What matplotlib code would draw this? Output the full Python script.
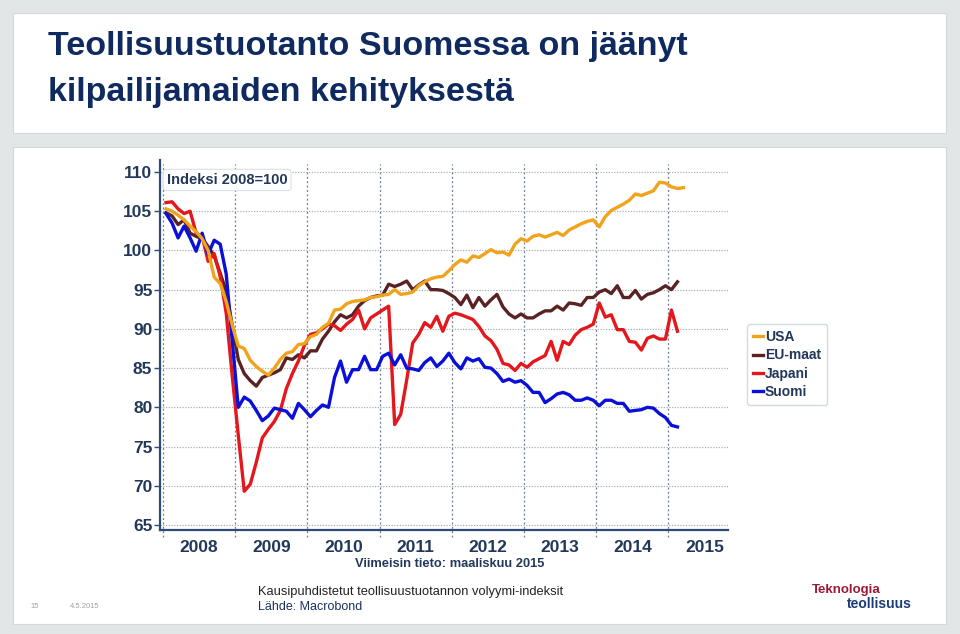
import numpy as np
import matplotlib
matplotlib.use("Agg")
import matplotlib.pyplot as plt
from matplotlib.patches import Rectangle

# monthly index values, Jan 2008 ->
usa = [105.3, 105.0, 104.5, 103.9, 103.1, 102.4, 101.5, 100.0, 96.6, 95.8,
       93.5, 90.5, 87.8, 87.5, 86.0, 85.2, 84.6, 84.1, 85.0, 86.1,
       86.9, 87.1, 88.0, 88.1, 89.0, 89.3, 90.2, 90.7, 92.4, 92.5,
       93.2, 93.5, 93.6, 93.7, 94.0, 94.1, 94.3, 94.4, 95.0, 94.4,
       94.5, 94.7, 95.5, 96.0, 96.4, 96.6, 96.7, 97.4, 98.2, 98.8,
       98.5, 99.3, 99.1, 99.6, 100.1, 99.7, 99.8, 99.4, 100.8, 101.5,
       101.2, 101.8, 102.0, 101.7, 102.0, 102.3, 101.9, 102.6, 103.0, 103.4,
       103.7, 103.9, 103.0, 104.3, 105.1, 105.5, 105.9, 106.4, 107.2, 107.0,
       107.3, 107.6, 108.7, 108.6, 108.1, 107.9, 108.0]
eu = [104.8, 104.4, 103.3, 103.9, 102.2, 101.8, 101.5, 100.5, 99.3, 97.1,
      94.8, 90.5, 86.1, 84.3, 83.4, 82.7, 83.8, 84.1, 84.4, 84.8,
      86.3, 86.1, 86.7, 86.3, 87.2, 87.2, 88.7, 89.7, 90.9, 91.8,
      91.4, 91.8, 92.9, 93.6, 94.0, 94.2, 94.3, 95.7, 95.4, 95.7,
      96.1, 95.0, 95.6, 96.1, 95.0, 95.0, 94.9, 94.5, 94.0, 93.1,
      94.3, 92.7, 94.0, 92.9, 93.7, 94.4, 92.8, 91.9, 91.4, 91.9,
      91.4, 91.4, 91.9, 92.3, 92.3, 92.9, 92.4, 93.3, 93.2, 93.0,
      94.0, 94.0, 94.7, 95.0, 94.5, 95.5, 94.0, 94.0, 94.9, 93.8,
      94.4, 94.6, 95.0, 95.5, 95.0, 96.0]
japani = [106.1, 106.2, 105.3, 104.7, 105.0, 102.2, 101.8, 98.6, 99.6, 96.7,
          92.0, 84.0, 76.5, 69.3, 70.2, 73.0, 76.1, 77.2, 78.2, 79.6,
          82.4, 84.3, 85.9, 87.9, 89.3, 89.5, 90.0, 90.6, 90.4, 89.8,
          90.6, 91.2, 92.4, 90.0, 91.4, 91.9, 92.4, 92.9, 77.8, 79.1,
          83.5, 88.2, 89.3, 90.8, 90.2, 91.6, 89.7, 91.6, 92.0, 91.8,
          91.5, 91.2, 90.3, 89.1, 88.5, 87.4, 85.6, 85.4, 84.7, 85.6,
          85.1, 85.8, 86.2, 86.6, 88.4, 86.0, 88.4, 88.0, 89.2, 89.9,
          90.2, 90.6, 93.3, 91.5, 91.8, 89.9, 89.9, 88.4, 88.3, 87.3,
          88.8, 89.1, 88.7, 88.7, 92.4, 89.7]
suomi = [104.7, 103.5, 101.6, 103.1, 101.6, 99.9, 102.2, 99.5, 101.3, 100.8,
         97.0, 88.5, 80.0, 81.3, 80.8, 79.6, 78.3, 78.9, 79.9, 79.7,
         79.5, 78.6, 80.5, 79.7, 78.8, 79.6, 80.3, 80.0, 83.8, 85.9,
         83.2, 84.8, 84.8, 86.5, 84.8, 84.8, 86.5, 86.9, 85.4, 86.7,
         85.0, 84.9, 84.7, 85.7, 86.3, 85.2, 85.9, 86.9, 85.7, 84.9,
         86.3, 85.9, 86.2, 85.1, 85.0, 84.3, 83.3, 83.6, 83.2, 83.4,
         82.8, 81.9, 81.9, 80.6, 81.1, 81.7, 81.9, 81.6, 80.9, 80.9,
         81.2, 80.9, 80.2, 80.9, 80.9, 80.5, 80.5, 79.5, 79.6, 79.7,
         80.0, 79.9, 79.2, 78.7, 77.7, 77.5]
years = list(range(2008, 2016))
yticks = [65, 70, 75, 80, 85, 90, 95, 100, 105, 110]

navy = "#0e2a5e"
axcol = "#2f4a78"
plt.rcParams['font.family'] = ['Liberation Sans', 'DejaVu Sans']

fig = plt.figure(figsize=(9.6, 6.34), dpi=100)
fig.patch.set_facecolor("#e2e6e6")

# white panels behind everything
fig.patches.append(Rectangle((13/960, 1-133/634), 933/960, 120/634, transform=fig.transFigure,
                             facecolor="white", edgecolor="#d4d8d8", lw=0.8, zorder=-10))
fig.patches.append(Rectangle((13/960, 1-624/634), 933/960, 477/634, transform=fig.transFigure,
                             facecolor="white", edgecolor="#d4d8d8", lw=0.8, zorder=-10))

fig.text(48/960, 1-47/634, "Teollisuustuotanto Suomessa on jäänyt",
         fontsize=24.5, fontweight="bold", color=navy, va="center", ha="left")
fig.text(48/960, 1-93/634, "kilpailijamaiden kehityksestä",
         fontsize=24.5, fontweight="bold", color=navy, va="center", ha="left")

ax = fig.add_axes([160/960, 1-530/634, 568/960, 370/634])
ax.patch.set_alpha(0)
ax.set_xlim(2007.958, 2015.825)
ax.set_ylim(64.36, 111.53)

def xs(vals):
    return 2008 + (np.arange(len(vals)) + 0.5) / 12

ax.plot(xs(usa), usa, color="#f2a31c", lw=2.4, label="USA", zorder=4)
ax.plot(xs(eu), eu, color="#5a2323", lw=2.4, label="EU-maat", zorder=3)
ax.plot(xs(japani), japani, color="#e3171c", lw=2.4, label="Japani", zorder=3)
ax.plot(xs(suomi), suomi, color="#0a10d8", lw=2.4, label="Suomi", zorder=3)

for v in yticks:
    ax.axhline(v, color="#a9b0b8", lw=0.9, ls=(0, (1, 1.2)), zorder=1)
for yr in years:
    ax.axvline(yr, ymin=-0.02, ymax=0.99, color="#6a7a90", lw=0.9, ls=(0, (1.5, 2)), zorder=1, clip_on=False)

for s in ["top", "right"]:
    ax.spines[s].set_visible(False)
for s in ["left", "bottom"]:
    ax.spines[s].set_color(axcol)
    ax.spines[s].set_linewidth(1.6)

ax.set_yticks(yticks)
ax.set_yticklabels([str(v) for v in yticks])
ax.tick_params(axis="y", length=4, width=1, color=axcol, labelsize=12.5, labelcolor="#22385a", pad=1.5)
ax.set_xticks([y + 0.5 for y in years])
ax.set_xticklabels([str(y) for y in years])
ax.tick_params(axis="x", length=0, labelsize=12.5, labelcolor="#22385a", pad=7)
for lab in ax.get_xticklabels() + ax.get_yticklabels():
    lab.set_fontweight("bold")

ax.text(0.012, 0.965, "Indeksi 2008=100", transform=ax.transAxes, fontsize=10.5, fontweight="bold",
        color="#22385a", va="top", ha="left",
        bbox=dict(boxstyle="round,pad=0.25", facecolor="white", edgecolor="#d8e0e8", lw=0.8), zorder=6)

leg = ax.legend(loc="upper left", bbox_to_anchor=(747/960, 1-324/634), bbox_transform=fig.transFigure,
                frameon=True, fontsize=10, handlelength=0.7, handletextpad=0.15, labelspacing=0.3,
                borderpad=0.45, borderaxespad=0, fancybox=True)
leg.get_frame().set_edgecolor("#c6d2de")
leg.get_frame().set_linewidth(1.0)
for t in leg.get_texts():
    t.set_fontweight("bold")
    t.set_color("#22385a")

fig.text(450/960, 1-564/634, "Viimeisin tieto: maaliskuu 2015", fontsize=9.3, fontweight="bold",
         color="#22385a", ha="center", va="center")
fig.text(258/960, 1-592/634, "Kausipuhdistetut teollisuustuotannon volyymi-indeksit", fontsize=9.3,
         color="#222222", ha="left", va="center")
fig.text(258/960, 1-607/634, "Lähde: Macrobond", fontsize=9, color="#1c3060", ha="left", va="center")
fig.text(30/960, 1-606/634, "15", fontsize=5.5, color="#a0a0a0", ha="left", va="center")
fig.text(70/960, 1-606/634, "4.5.2015", fontsize=5.5, color="#a0a0a0", ha="left", va="center")
fig.text(812/960, 1-590/634, "Teknologia", fontsize=9.5, fontweight="bold", color="#9c1a36",
         ha="left", va="center")
fig.text(912/960, 1-604/634, "teollisuus", fontsize=10, fontweight="bold", color="#1c3a78",
         ha="right", va="center")

fig.savefig("out.png", dpi=100, facecolor=fig.get_facecolor())
